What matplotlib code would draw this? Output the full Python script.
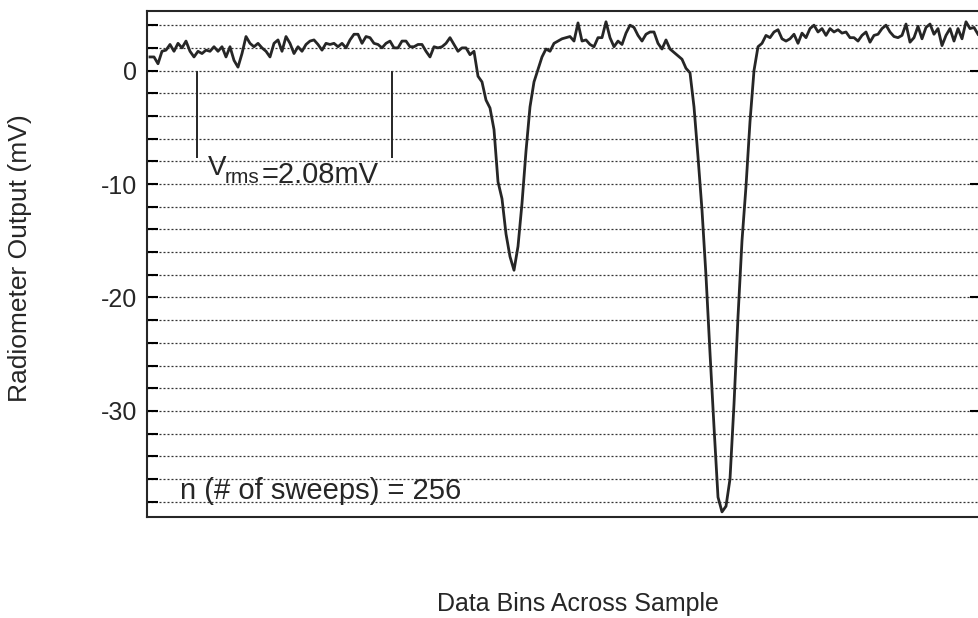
import numpy as np
import matplotlib.pyplot as plt
from matplotlib.ticker import MultipleLocator

plt.rcParams['font.family'] = ['Liberation Sans', 'DejaVu Sans']
plt.rcParams['axes.unicode_minus'] = False

# radiometer output per data bin (mV)
output_mv = [
    1.2, 1.2, 0.6, 1.7, 1.8, 2.3, 1.7, 2.4, 2.0, 2.6,
    1.7, 1.2, 1.7, 1.5, 1.8, 1.7, 2.1, 1.7, 2.1, 1.2,
    2.1, 0.9, 0.3, 1.5, 3.0, 2.4, 2.1, 2.4, 2.0, 1.7,
    1.2, 2.4, 2.7, 1.7, 3.0, 2.4, 1.5, 2.1, 1.7, 2.3,
    2.6, 2.7, 2.3, 1.8, 2.4, 2.3, 2.4, 2.1, 2.4, 2.0,
    2.7, 3.2, 3.2, 2.4, 3.0, 2.9, 2.4, 2.3, 2.0, 2.4,
    2.6, 2.0, 2.0, 2.6, 2.6, 2.1, 2.1, 2.3, 2.3, 1.7,
    1.2, 2.1, 2.0, 2.1, 2.4, 2.9, 2.3, 1.7, 2.0, 2.0,
    1.4, 1.7, -0.5, -1.0, -2.6, -3.3, -5.2, -9.8, -11.3, -14.4,
    -16.4, -17.6, -15.5, -11.7, -7.1, -3.2, -1.0, 0.1, 1.2, 1.9,
    1.7, 2.4, 2.6, 2.8, 2.9, 3.0, 2.6, 4.2, 2.6, 2.7,
    2.3, 2.1, 2.9, 2.9, 4.3, 2.9, 2.1, 2.6, 2.3, 3.3,
    4.0, 3.8, 3.1, 2.6, 3.2, 3.4, 3.4, 2.4, 1.9, 2.7,
    1.9, 1.6, 1.3, 1.0, 0.2, -0.2, -3.2, -7.6, -12.3, -18.1,
    -24.9, -31.4, -37.6, -38.9, -38.4, -36.0, -29.4, -21.7, -15.0, -10.2,
    -4.5, 0.0, 2.1, 2.4, 3.1, 2.9, 3.4, 3.6, 2.8, 2.6,
    2.8, 3.2, 2.4, 3.3, 2.9, 3.7, 4.0, 3.4, 3.7, 3.1,
    3.7, 3.4, 3.6, 3.3, 3.4, 2.9, 2.9, 2.6, 3.1, 3.4,
    2.5, 3.1, 3.2, 3.7, 4.0, 3.4, 3.0, 2.9, 3.1, 4.1,
    2.5, 2.9, 3.9, 2.8, 3.8, 4.1, 3.2, 3.7, 2.2, 3.1,
    3.7, 2.6, 3.7, 2.8, 4.3, 3.7, 3.8, 3.2,
]
bins = np.arange(len(output_mv))

y_ticks = [0, -10, -20, -30]
y_labels = ['0', '-10', '-20', '-30']
rms_bins = [11.75, 60.5]   # bracket marking the noise window

ink = '#262626'

fig = plt.figure(figsize=(9.79, 6.18), dpi=100)
ax = fig.add_axes([147/979, 101/618, 834/979, 506/618])

ax.plot(bins, output_mv, color=ink, lw=2.0, solid_joinstyle='round', zorder=3)
ax.vlines(rms_bins, -7.7, 0, color=ink, lw=1.4)

ax.set_xlim(-0.75, 207.75)
ax.set_ylim(-39.35, 5.25)
ax.set_xticks([])
ax.set_yticks(y_ticks)
ax.set_yticklabels(y_labels)
ax.yaxis.set_minor_locator(MultipleLocator(2))

ax.grid(True, axis='y', which='both', color='#333333', lw=0.9, ls=(0, (1.6, 1.6)))
ax.set_axisbelow(True)

ax.tick_params(axis='y', which='both', direction='in', length=8, width=1.5,
               left=True, right=False, labelsize=18, pad=7, labelcolor=ink)
ax.tick_params(axis='y', which='major', right=True)
for sp in ax.spines.values():
    sp.set_linewidth(1.5)
    sp.set_color(ink)

# annotations
ax.text(14.5, -9.2, 'V', fontsize=20, color=ink)
ax.text(18.75, -9.9, 'rms', fontsize=15, color=ink)
ax.text(28, -9.9, '=2.08mV', fontsize=21, color=ink)
ax.text(7.5, -37.8, 'n (# of sweeps) = 256', fontsize=21, color=ink)

fig.text(20/979, 1 - 258/618, 'Radiometer Output (mV)', rotation=90,
         ha='center', va='center', fontsize=19, color=ink)
fig.text(578/979, 1 - 611/618, 'Data Bins Across Sample', ha='center',
         va='baseline', fontsize=18, color=ink)

fig.savefig('out.png', dpi=100)
